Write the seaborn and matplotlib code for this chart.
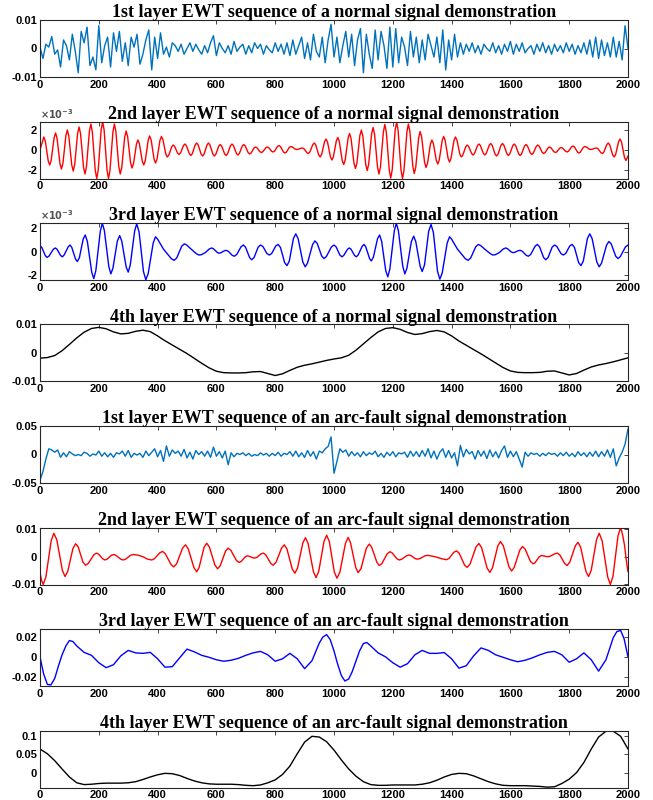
import numpy as np
import matplotlib
matplotlib.use("Agg")
import matplotlib.pyplot as plt
import seaborn as sns

# ---------------------------------------------------------------
# data (most in units of 1e-3)
# ---------------------------------------------------------------
titles = [
    "1st layer EWT sequence of a normal signal demonstration",
    "2nd layer EWT sequence of a normal signal demonstration",
    "3rd layer EWT sequence of a normal signal demonstration",
    "4th layer EWT sequence of a normal signal demonstration",
    "1st layer EWT sequence of an arc-fault signal demonstration",
    "2nd layer EWT sequence of an arc-fault signal demonstration",
    "3rd layer EWT sequence of an arc-fault signal demonstration",
    "4th layer EWT sequence of an arc-fault signal demonstration",
]

x_step10 = list(range(0, 2001, 10))
x_step25 = list(range(0, 2001, 25))

# normal, layer 1 (x_step10, 1e-3)
normal_l1 = [
    0.5, -3.5, 1.5, 0.5, 4.2, -2, -0.5, -6.5, 3, 1,
    -4, 5, -1, -8.5, 6, 2, 7.5, -6, -3, -7.5,
    8, -5, 1, 4, -6.5, 5.5, -1, 6, -4.5, 2,
    -6, 4, 0.5, 5, -5.5, -2, 3, 6.5, -7.5, 4,
    -3.5, 5.5, -2, 0.5, -3, 2, 1, -1, 1.5, -2,
    0, 2, -1, 1.5, -0.5, -2, 1, -1.5, 2, 4.5,
    -2.5, 2, 0, -1.5, 1, -2, 2.5, -1, 0.5, 1.5,
    -2, 1, -1.5, 2, 0, 1.5, -2, 1, -0.5, -1.5,
    2, -1, 1.5, -2, 2, -2.5, 3, -2, 1, 4,
    -3.5, 2, -4, 5, -1, -3, 4, -5, 3, 8.5,
    -3, 4, -5, 1, 6, -3, 5, -6, 3, 7,
    -8.5, 5, -2, -7, 6.5, -4, 6, 1, -7, 7.5,
    -6.5, 7, -5, 4, 0.5, -6, 6, -3, 4, -5,
    3, -4, 5, 1, -3, 4, -5, 6.5, -7.5, 3,
    -4, 5, -3, 2, -2, 1.5, -1, 2, -1.5, 1,
    -2, 1.5, 0, -1, 2, -1.5, 1, -2, 1.5, -1,
    2.5, -2, 1.5, -1, 2, -1.5, 0, 1, -2, 1.5,
    -1, 2, -1.5, 1, -2, 1.5, -1, 1, -1.5, 2,
    -1, 1.5, -2, 1, -1.5, 2, -2, 3, -3, 4,
    -3.5, 3, -2.5, 2, -3, 4, -3, 2.5, -4, 8,
    0,
]

# normal, layer 2: peaks / troughs (1e-3)
normal_l2_x = [0] + list(range(13, 2000, 20)) + [2000]
normal_l2 = [
    0.0,
    1.3, -1.5, 1.7, -1.9, 2.0, -2.1, 2.3, -2.4, 2.6, -2.85,
    2.85, -2.85, 2.6, -2.4, 1.9, -1.8, 1.0, -1.5, 1.4, -1.3,
    1.35, -0.7, 0.5, -0.45, 0.6, -0.55, 0.7, -0.6, 0.7, -0.6,
    0.55, -0.55, 0.6, -0.5, 0.55, -0.4, 0.3, -0.25, 0.3, -0.2,
    0.45, -0.3, 0.35, 0.05, 0.2, -0.35, 0.7, -0.7, 1.1, -1.0,
    1.25, -1.45, 1.65, -1.85, 2.0, -2.05, 2.25, -2.4, 2.55, -2.8,
    2.8, -2.85, 2.6, -2.35, 1.85, -1.75, 1.0, -1.4, 1.35, -1.2,
    1.3, -0.7, 0.5, -0.5, 0.6, -0.5, 0.65, -0.6, 0.65, -0.55,
    0.6, -0.55, 0.55, -0.45, 0.5, -0.35, 0.3, -0.25, 0.25, -0.2,
    0.4, -0.3, 0.35, 0.05, 0.2, -0.35, 0.7, -0.7, 1.1, -1.05,
    -0.6,
]
# normal, layer 2: points on the flanks, 5 samples after / 5 before each extremum
normal_l2_fa_x = list(range(18, 1980, 20))
normal_l2_fa = [
    0.89, -1.03, 1.17, -1.33, 1.40, -1.46, 1.61, -1.67, 1.80, -2.02,
    2.02, -2.05, 1.87, -1.77, 1.36, -1.39, 0.64, -1.08, 1.01, -0.91,
    1.05, -0.52, 0.36, -0.30, 0.43, -0.37, 0.51, -0.41, 0.51, -0.43,
    0.39, -0.38, 0.44, -0.35, 0.41, -0.30, 0.22, -0.17, 0.23, -0.11,
    0.34, -0.21, 0.31, 0.07, 0.12, -0.20, 0.50, -0.44, 0.79, -0.67,
    0.86, -1.00, 1.14, -1.29, 1.41, -1.42, 1.57, -1.68, 1.77, -1.98,
    1.98, -2.05, 1.88, -1.74, 1.32, -1.35, 0.65, -1.00, 0.98, -0.84,
    1.01, -0.52, 0.35, -0.34, 0.44, -0.33, 0.47, -0.42, 0.47, -0.38,
    0.43, -0.39, 0.40, -0.31, 0.38, -0.26, 0.22, -0.18, 0.18, -0.11,
    0.30, -0.21, 0.31, 0.07, 0.12, -0.20, 0.50, -0.44, 0.79,
]
normal_l2_fb_x = list(range(28, 1990, 20))
normal_l2_fb = [
    -1.09, 1.23, -1.37, 1.43, -1.50, 1.66, -1.71, 1.87, -2.05, 2.02,
    -2.02, 1.80, -1.67, 1.27, -1.26, 0.59, -1.14, 0.98, -0.91, 0.96,
    -0.40, 0.32, -0.31, 0.45, -0.38, 0.52, -0.41, 0.51, -0.41, 0.38,
    -0.39, 0.43, -0.34, 0.40, -0.26, 0.20, -0.17, 0.22, -0.13, 0.36,
    -0.19, 0.26, 0.09, 0.18, -0.27, 0.55, -0.50, 0.84, -0.69, 0.92,
    -1.06, 1.20, -1.34, 1.44, -1.46, 1.62, -1.72, 1.83, -2.02, 1.98,
    -2.03, 1.80, -1.63, 1.24, -1.22, 0.60, -1.05, 0.95, -0.83, 0.94,
    -0.41, 0.32, -0.35, 0.44, -0.34, 0.48, -0.42, 0.47, -0.37, 0.43,
    -0.38, 0.39, -0.30, 0.36, -0.23, 0.21, -0.17, 0.18, -0.13, 0.31,
    -0.20, 0.26, 0.09, 0.18, -0.27, 0.55, -0.50, 0.84, -0.74,
]

# normal, layer 3: peaks / troughs / shoulders (1e-3)
normal_l3_x = [
    0, 24, 52, 76, 102, 127, 154, 183, 212, 241, 271, 300, 329, 360, 393,
    420, 456, 491, 515, 540, 562, 584, 609, 633, 661, 692, 720, 750, 780,
    810, 840, 870, 902, 935, 966, 1000, 1027, 1052, 1076, 1102, 1127, 1155,
    1183, 1212, 1241, 1271, 1300, 1330, 1360, 1393, 1420, 1456, 1491, 1515,
    1540, 1562, 1584, 1609, 1633, 1661, 1692, 1720, 1750, 1780, 1810, 1840,
    1870, 1902, 1935, 1966, 2000,
]
normal_l3 = [
    0.5, -0.5, 0.3, -0.45, 0.55, -0.85, 1.4, -2.3, 2.4, -1.9, 1.35, -1.75,
    2.35, -2.4, 1.25, 0.2, -0.75, 0.65, 0.18, -0.3, -0.1, 0.3, -0.15, 0.1,
    -0.4, 0.55, -0.7, 0.55, -0.3, 0.6, -1.2, 1.5, -1.3, 0.9, -0.6, 0.55,
    -0.45, 0.3, -0.45, 0.6, -0.8, 1.4, -2.15, 2.4, -1.9, 1.3, -1.7, 2.3,
    -2.35, 1.25, 0.2, -0.75, 0.6, 0.15, -0.3, -0.1, 0.3, -0.1, 0.1, -0.4,
    0.6, -0.7, 0.55, -0.3, 0.6, -1.2, 1.5, -1.3, 0.85, -0.6, 0.55,
]
# normal, layer 3: points on the flanks
normal_l3_f_x = [
    6, 18, 31, 45, 58, 70, 82, 96, 108, 121, 134, 147, 161, 176, 190, 205,
    219, 234, 248, 263, 278, 293, 307, 322, 337, 352, 368, 385, 400, 447,
    465, 482, 499, 531, 549, 576, 590, 603, 615, 627, 640, 654, 669, 684,
    699, 713, 728, 742, 758, 772, 788, 802, 818, 832, 848, 862, 878, 894,
    910, 927, 943, 958, 974, 991,
    1007, 1020, 1033, 1046, 1058, 1070, 1082, 1096, 1108, 1121, 1134, 1148,
    1162, 1176, 1190, 1205, 1219, 1234, 1248, 1263, 1278, 1293, 1308, 1322,
    1338, 1352, 1368, 1385, 1400, 1447, 1465, 1482, 1499, 1531, 1549, 1576,
    1590, 1603, 1615, 1627, 1640, 1654, 1669, 1684, 1699, 1713, 1728, 1742,
    1758, 1772, 1788, 1802, 1818, 1832, 1848, 1862, 1878, 1894, 1910, 1927,
    1943, 1958, 1974, 1991,
]
normal_l3_f = [
    0.35, -0.35, -0.38, 0.18, 0.19, -0.34, -0.30, 0.40, 0.35, -0.65,
    -0.52, 1.07, 0.86, -1.76, -1.61, 1.71, 1.77, -1.27, -1.43, 0.88,
    0.90, -1.30, -1.15, 1.75, 1.66, -1.71, -1.87, 0.72, 1.05, -0.62,
    -0.55, 0.45, 0.55, -0.17, -0.27, 0.22, 0.23, -0.08, -0.11, 0.06,
    0.03, -0.33, -0.26, 0.41, 0.37, -0.52, -0.52, 0.37, 0.43, -0.18,
    -0.17, 0.47, 0.34, -0.94, -0.81, 1.11, 1.09, -0.89, -0.98, 0.58,
    0.68, -0.38, -0.43, 0.38,
    0.40, -0.30, -0.34, 0.19, 0.19, -0.34, -0.30, 0.45, 0.40, -0.60,
    -0.48, 1.08, 0.88, -1.63, -1.49, 1.74, 1.77, -1.27, -1.43, 0.83,
    0.86, -1.26, -1.12, 1.72, 1.62, -1.67, -1.83, 0.72, 1.05, -0.62,
    -0.55, 0.40, 0.50, -0.17, -0.27, 0.22, 0.24, -0.04, -0.07, 0.07,
    0.03, -0.33, -0.25, 0.45, 0.41, -0.51, -0.52, 0.37, 0.43, -0.18,
    -0.17, 0.47, 0.34, -0.94, -0.81, 1.11, 1.09, -0.89, -0.99, 0.54,
    0.64, -0.39, -0.43, 0.38,
]

# normal, layer 4 (x_step25, 1e-3)
normal_l4 = [
    -1.8, -1.6, -0.9, 0.8, 3.0, 5.3, 7.3, 8.6, 9.0, 8.5,
    7.4, 6.7, 6.9, 7.6, 8.0, 7.5, 6.0, 4.3, 2.8, 1.3,
    -0.2, -1.9, -3.6, -5.2, -6.4, -6.9, -7.0, -7.0, -6.9, -6.6,
    -6.5, -7.2, -7.9, -7.3, -6.1, -5.0, -4.3, -3.8, -3.2, -2.6,
    -2.1, -1.7, -0.8, 1.0, 3.2, 5.4, 7.4, 8.6, 8.9, 8.3,
    7.2, 6.5, 6.8, 7.5, 7.9, 7.4, 6.0, 4.2, 2.7, 1.2,
    -0.3, -1.9, -3.5, -5.1, -6.3, -6.8, -6.9, -6.9, -6.8, -6.4,
    -6.3, -7.0, -7.7, -7.2, -6.0, -4.9, -4.2, -3.7, -3.1, -2.4,
    -1.7,
]

# arc-fault, layer 1 (x_step10, 1e-3)
arc_l1 = [
    -45, -30, -8, 10, 8, 4, 8, -5, 3, -4,
    5, 1, -2, 0, -2, 4, 2, -3, 1, -1,
    6, -3, 3, -4, 2, -5, 3, 1, 6, -3,
    7, -5, 2, -1, 2, -5, 6, -2, 4, 10,
    -4, 7, -12, 15, -3, 8, 2, 6, -3, 9,
    -6, 4, -8, 7, 0, 5, -3, 6, -5, 13,
    -3, 5, -6, 6, -18, 3, -4, 2, 0, 3,
    -2, 2, -3, 0, -2, 3, -1, 2, -3, 2,
    -2, 4, -3, 2, 0, 5, -3, 6, -4, 3,
    -5, 7, -3, 5, -8, 6, 3, 10, 14, 31,
    -33, -12, 10, 4, 8, -3, 5, -2, 3, -4,
    5, -2, 3, 0, 6, -4, 2, -5, 4, -2,
    5, -4, 3, 1, 4, -5, 6, -3, 5, -4,
    7, -3, 10, -6, 6, -8, 4, 10, -5, 7,
    -6, 3, -20, 16, -4, 9, 1, 5, -8, 7,
    -3, 6, -7, 8, -4, 5, -6, 7, 15, -5,
    6, -4, 5, -8, -22, 4, -3, 3, 0, 2,
    -3, 2, -2, 3, 0, 2, -3, 3, -2, 4,
    -3, 2, -4, 5, -2, 3, -4, 4, -3, 6,
    -4, 5, -3, 8, -5, 10, -20, -6, 4, 18,
    45,
]

# arc-fault, layer 2: peaks / troughs (1e-3)
arc_l2_x = [
    0, 11, 47, 85, 121, 155, 192, 221, 250, 283, 317, 350, 380, 417, 455,
    495, 533, 567, 604, 640, 677, 705, 730, 760, 793, 831, 867, 903, 939,
    975, 1010, 1048, 1082, 1120, 1154, 1190, 1222, 1255, 1283, 1318, 1350,
    1383, 1417, 1453, 1493, 1530, 1566, 1604, 1641, 1677, 1705, 1728, 1760,
    1793, 1830, 1866, 1902, 1940, 1975, 2000,
]
arc_l2 = [
    -5.7, -10.1, 8.5, -7.2, 4.7, -3.1, 1.3, -1.2, 0.8, -1.2, 0.8, 0.0,
    -1.2, 1.9, -3.7, 4.3, -5.5, 4.9, -4.4, 3.1, -2.1, 0.3, -0.5, 1.3,
    -3.1, 4.3, -6.0, 6.9, -7.6, 7.8, -7.8, 7.0, -5.8, 4.6, -3.2, 1.8,
    -1.2, 0.6, -0.9, 0.5, -0.2, -1.1, 2.1, -3.9, 4.8, -5.7, 5.5, -5.2,
    3.7, -2.6, 0.4, 0.0, 1.3, -3.2, 5.2, -7.2, 8.5, -10.1, 10.6, -5.5,
]
# arc-fault, layer 2: points on the flanks
arc_l2_f_x = [
    5, 20, 38, 57, 76, 94, 112, 130, 146, 164, 183, 199, 214, 228, 243,
    258, 275, 291, 308, 333, 365, 389, 408, 426, 446, 465, 485, 504, 524,
    541, 558, 576, 595, 613, 631, 649, 668, 684, 698, 711, 724, 738, 752,
    768, 785, 803, 822, 840, 858, 876, 894, 912, 930, 948, 966, 984, 1001,
    1020, 1039, 1056, 1074, 1092, 1110, 1128, 1146, 1163, 1181, 1198, 1214,
    1230, 1247, 1262, 1276, 1292, 1309, 1334, 1366, 1391, 1408, 1426, 1444,
    1463, 1483, 1502, 1521, 1539, 1557, 1576, 1595, 1613, 1632, 1650, 1668,
    1684, 1698, 1711, 1722, 1736, 1752, 1768, 1785, 1802, 1821, 1839, 1857,
    1875, 1893, 1912, 1931, 1949, 1966, 1981, 1988, 1994,
]
arc_l2_f = [
    -8.5, -7.38, 5.78, 6.21, -4.91, -5.46, 2.96, 3.56, -1.96, -2.46,
    0.66, 0.94, -0.84, -0.91, 0.51, 0.51, -0.91, -0.91, 0.51, 0.55,
    -0.85, -0.75, 1.45, 1.08, -2.88, -2.53, 3.13, 2.87, -4.07, -3.98,
    3.38, 3.54, -3.04, -3.31, 2.01, 2.34, -1.34, -1.75, -0.05, 0.18,
    -0.38, -0.24, 1.04, 0.66, -2.46, -2.02, 3.22, 2.80, -4.50, -4.12,
    5.02, 4.78, -5.48, -5.35, 5.55, 5.52, -5.52,
    -5.64, 4.84, 5.13, -3.93, -4.28, 3.08, 3.46, -2.06, -2.47, 1.07,
    1.36, -0.76, -0.94, 0.34, 0.38, -0.68, -0.70, 0.30, 0.2, -0.75,
    -0.63, 1.63, 1.22, -3.02, -2.63, 3.53, 3.27, -4.17, -4.07, 3.87,
    3.94, -3.64, -3.90, 2.40, 2.78, -1.68, -2.16, -0.04, 0.34, 0.06,
    0.19, 1.11, 0.64, -2.54, -1.97, 3.97, 3.39, -5.39, -4.91, 6.21,
    5.78, -7.38, -7.08, 7.58, 8.25, 4.3, -1.1,
]

# arc-fault, layer 3 (x_step25, 1e-3)
arc_l3 = [
    0.0, -28, -22, 2, 16.5, 11, 4.5, 1.5, -6, -11,
    -8, 1, 6.5, 4, 3.5, 4.5, -2, -10.5, -10, -1,
    7.8, 5, 1.5, -0.5, -3, -4.5, -3.5, -1.5, 1.5, 4,
    5.5, 2, -4.5, -2, 3.5, -2, -12, -4, 14, 22.5,
    6, -19, -22.5, -4, 13.5, 11, 4, 0, -6, -10.5,
    -7, 2, 6.5, 3.5, 3.5, 4.3, -2, -11.5, -9, 1,
    9, 6.5, 2, -0.5, -3, -5, -3.5, -1, 2, 4.5,
    5.5, 2, -5.5, -2, 4, -3, -14.5, -3, 19.5, 26.8,
    0.0,
]
# arc-fault, layer 3: extra points where the curve bends sharply
arc_l3_extra_x = [12, 37, 62, 88, 112, 962, 987, 1012, 1037, 1062, 1087,
                  1112, 1962, 1987]
arc_l3_extra = [-17, -28.5, -10, 11, 15.5, 20, 17.5, -7, -24.5, -15, 6,
                14.5, 25.5, 18]

# arc-fault, layer 4 (x_step25, 1e-3)
arc_l4 = [
    65, 52, 33, 10, -12, -28, -33, -32, -30, -29,
    -29, -29, -28, -25, -19, -12, -6, -2, -3, -8,
    -16, -23, -28, -31, -32, -32, -32, -33, -35, -36,
    -34, -28, -20, -5, 18, 52, 84, 100, 98, 85,
    62, 35, 10, -10, -25, -33, -35, -35, -34, -34,
    -34, -34, -32, -28, -21, -12, -5, -2, -3, -9,
    -17, -25, -31, -35, -36, -36, -36, -37, -38, -40,
    -39, -30, -18, 0, 28, 65, 98, 114, 114, 100,
    65,
]

series = [
    (x_step10, normal_l1),
    (normal_l2_x + normal_l2_fa_x + normal_l2_fb_x,
     normal_l2 + normal_l2_fa + normal_l2_fb),
    (normal_l3_x + normal_l3_f_x, normal_l3 + normal_l3_f),
    (x_step25, normal_l4),
    (x_step10, arc_l1),
    (arc_l2_x + arc_l2_f_x, arc_l2 + arc_l2_f),
    (x_step25 + arc_l3_extra_x, arc_l3 + arc_l3_extra),
    (x_step25, arc_l4),
]
# second and third normal panels stay in 1e-3 units (exponent label on top)
scales = [1e-3, 1.0, 1.0, 1e-3, 1e-3, 1e-3, 1e-3, 1e-3]
colors = ["#0072BD", "#FF0000", "#0000FF", "#000000",
          "#0072BD", "#FF0000", "#0000FF", "#000000"]
ylims = [(-0.01, 0.01), (-2.85, 2.85), (-2.42, 2.42), (-0.01, 0.01),
         (-0.05, 0.05), (-0.0101, 0.0106), (-0.0296, 0.0282), (-0.041, 0.116)]
yticks = [[-0.01, 0, 0.01], [-2, 0, 2], [-2, 0, 2], [-0.01, 0, 0.01],
          [-0.05, 0, 0.05], [-0.01, 0, 0.01], [-0.02, 0, 0.02], [0, 0.05, 0.1]]
ytick_labels = [["-0.01", "0", "0.01"], ["-2", "0", "2"], ["-2", "0", "2"],
                ["-0.01", "0", "0.01"], ["-0.05", "0", "0.05"],
                ["-0.01", "0", "0.01"], ["-0.02", "0", "0.02"],
                ["0", "0.05", "0.1"]]
xticks = list(range(0, 2001, 200))

# ---------------------------------------------------------------
# figure
# ---------------------------------------------------------------
sns.set_style("white")
plt.rcParams["font.family"] = ["Liberation Sans", "DejaVu Sans"]
plt.rcParams["font.weight"] = "bold"
plt.rcParams["axes.unicode_minus"] = False

W, H = 653, 800
fig = plt.figure(figsize=(W / 100, H / 100), dpi=100)

for i in range(8):
    top = 20 + 101.5 * i
    ax = fig.add_axes([40 / W, 1 - (top + 57) / H, 588 / W, 57 / H])
    xs, ys = series[i]
    sns.lineplot(x=np.array(xs), y=np.array(ys) * scales[i], ax=ax,
                 color=colors[i], linewidth=1.0, estimator=None, sort=True)
    for ln in ax.lines:
        ln.set_solid_joinstyle("round")
    ax.set_xlim(0, 2000)
    ax.set_ylim(*ylims[i])
    ax.set_xticks(xticks)
    ax.set_xticklabels([str(t) for t in xticks])
    ax.set_yticks(yticks[i])
    ax.set_yticklabels(ytick_labels[i])
    ax.set_xlabel("")
    ax.set_ylabel("")
    ax.tick_params(direction="in", top=True, right=True, length=3, width=0.6,
                   labelsize=8, pad=2, colors="#262626")
    for lab in ax.get_xticklabels() + ax.get_yticklabels():
        lab.set_fontweight("bold")
        lab.set_color("black")
    for sp in ax.spines.values():
        sp.set_visible(True)
        sp.set_color("#262626")
        sp.set_linewidth(0.8)
    ax.set_title(titles[i], fontsize=13, fontweight="bold", color="black",
                 fontfamily="Liberation Serif", pad=2)
    if i in (1, 2):
        ax.text(0.0, 1.01, r"$\times10^{-3}$", transform=ax.transAxes,
                fontsize=7, fontweight="normal", color="#505050",
                ha="left", va="bottom")

fig.savefig("out.png", dpi=100)
